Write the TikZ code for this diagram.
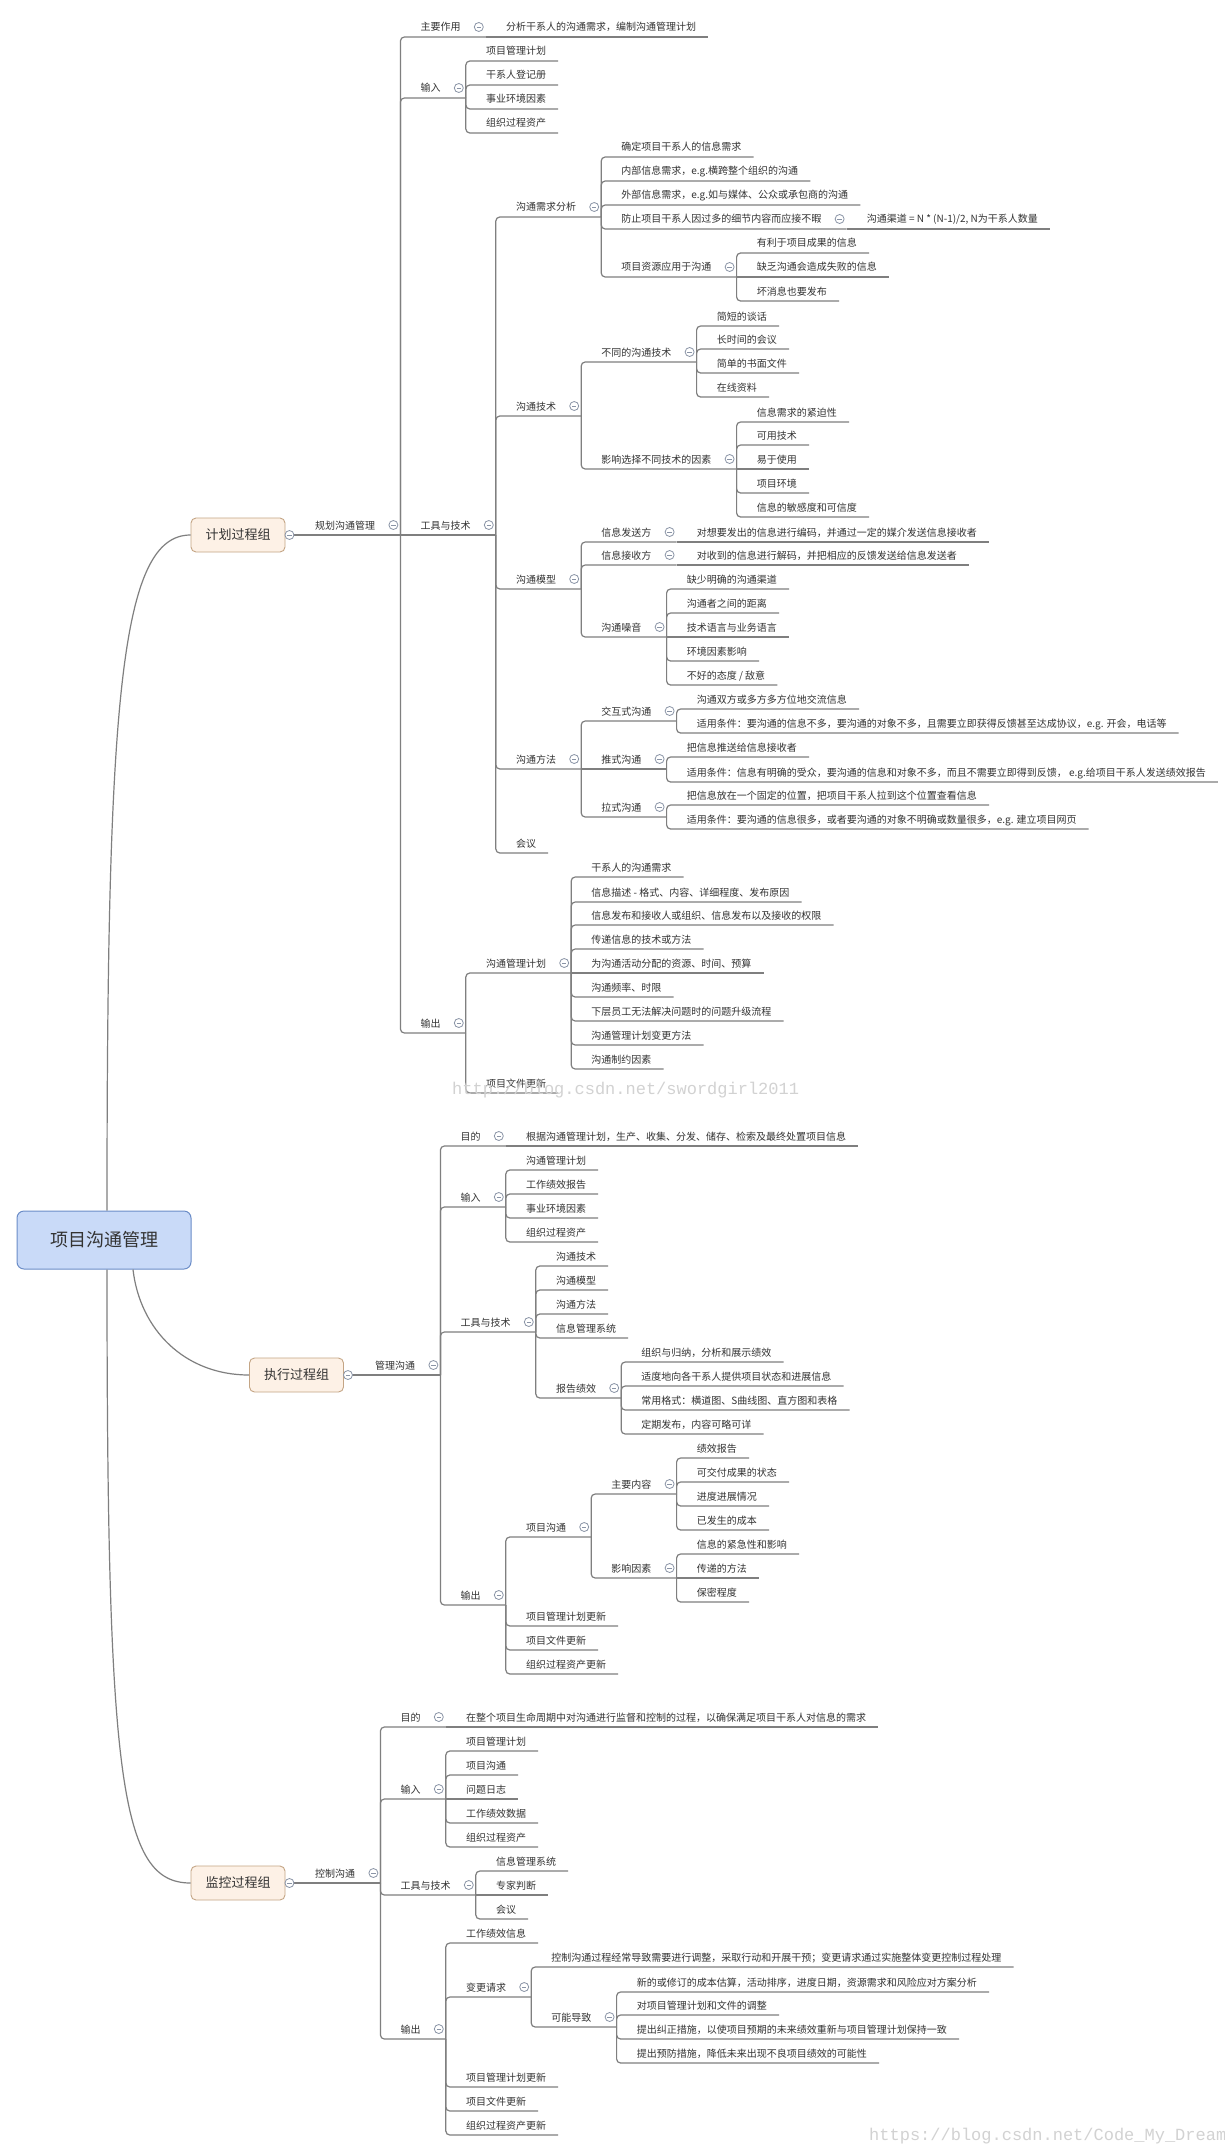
\documentclass[tikz,border=0pt]{standalone}
\usepackage{fontspec}
\setmainfont{Noto Sans CJK SC}
\newfontfamily\wmfont{Liberation Mono}
\usetikzlibrary{calc}
\definecolor{txtc}{HTML}{333333}
\definecolor{linec}{HTML}{7F7F7F}
\definecolor{togc}{HTML}{8A94A6}
\definecolor{grpfill}{HTML}{FDF1E6}
\definecolor{grpdraw}{HTML}{C4A585}
\definecolor{rootfill}{HTML}{C9DAF8}
\definecolor{rootdraw}{HTML}{6A8CC7}
\definecolor{wmc}{HTML}{D2D2D2}
\tikzset{
 txt/.style={font=\fontsize{10}{12}\selectfont, text=txtc, inner sep=1pt, anchor=base west},
 conn/.style={draw=linec, line width=1.2pt, rounded corners=4pt},
 tog/.style={circle, draw=togc, fill=white, line width=0.8pt, minimum size=9pt, inner sep=0pt,
   path picture={\draw[togc, line width=0.8pt] ([xshift=-2.2pt]path picture bounding box.center) -- ([xshift=2.2pt]path picture bounding box.center);}},
 grp/.style={draw=grpdraw, fill=grpfill, rounded corners=5pt, line width=0.9pt, minimum width=94pt, minimum height=34pt, inner sep=0pt, font=\fontsize{13}{15}\selectfont, text=txtc},
 rootbox/.style={draw=rootdraw, fill=rootfill, rounded corners=7pt, line width=1pt, minimum width=174pt, minimum height=58pt, inner sep=0pt, font=\fontsize{18}{20}\selectfont, text=txtc},
 curve/.style={draw=linec, line width=1.2pt},
 wm/.style={font=\wmfont\fontsize{17}{19}\selectfont, text=wmc, inner sep=0pt, anchor=base west}
}
% leaf: [path op]{parent}{name}{underline y}{text}
\newcommand\mmleaf[5][|-]{%
  \coordinate (#3-y) at (0,#4);
  \node[txt] (#3) at ($(#2-s |- #3-y)+(19,-6)$) {#5};
  \coordinate (#3-e) at ($(#3.base east)+(11,6)$);
  \draw[conn] (#2-s) #1 (#3-e);}
% inner node with children
\newcommand\mmnode[5][|-]{%
  \coordinate (#3-y) at (0,#4);
  \node[txt] (#3) at ($(#2-s |- #3-y)+(19,-6)$) {#5};
  \coordinate (#3-s) at ($(#3.base east)+(24,6)$);
  \draw[conn] (#2-s) #1 (#3-s);
  \node[tog] (#3-t) at ($(#3.base east)+(17,-4)$) {};}
\begin{document}
\begin{tikzpicture}[x=1pt,y=-1pt]
\fill[white] (0,0) rectangle (1225,2151);
\useasboundingbox (0,0) rectangle (1225,2151);

\node[rootbox] (root) at (104,1240) {项目沟通管理};
\node[grp] (g1) at (238,535) {计划过程组};
\node[grp] (g2) at (296.5,1375) {执行过程组};
\node[grp] (g3) at (238,1883) {监控过程组};
\draw[curve] ($(root.north)+(3,0)$) .. controls (107,700) and (120,535) .. (g1.west);
\draw[curve] ($(root.south)+(29,0)$) .. controls (140,1330) and (185,1375) .. (g2.west);
\draw[curve] ($(root.south)+(3,0)$) .. controls (107,1780) and (120,1883) .. (g3.west);

% ---------------- planning
\node[txt] (p0) at (314,529) {规划沟通管理};
\coordinate (p0-s) at ($(p0.base east)+(24,6)$);
\draw[conn] (g1.east) -- (p0-s);
\node[tog] (p0-t) at ($(p0.base east)+(17,-4)$) {};
\node[tog] (g1-t) at ($(g1.east)+(4,0)$) {};

\mmnode{p0}{a1}{37}{主要作用}
\mmleaf[--]{a1}{a1a}{37}{分析干系人的沟通需求，编制沟通管理计划}
\mmnode{p0}{a2}{98}{输入}
\mmleaf{a2}{a2a}{61}{项目管理计划}
\mmleaf{a2}{a2b}{85}{干系人登记册}
\mmleaf{a2}{a2c}{109}{事业环境因素}
\mmleaf{a2}{a2d}{133}{组织过程资产}
\mmnode[--]{p0}{a3}{535}{工具与技术}
\mmnode{a3}{b1}{217}{沟通需求分析}
\mmleaf{b1}{b1a}{157}{确定项目干系人的信息需求}
\mmleaf{b1}{b1b}{181}{内部信息需求，e.g.横跨整个组织的沟通}
\mmleaf{b1}{b1c}{205}{外部信息需求，e.g.如与媒体、公众或承包商的沟通}
\mmnode{b1}{b1d}{229}{防止项目干系人因过多的细节内容而应接不暇}
\mmleaf[--]{b1d}{b1d1}{229}{沟通渠道 = N * (N-1)/2, N为干系人数量}
\mmnode{b1}{b1e}{277}{项目资源应用于沟通}
\mmleaf{b1e}{b1e1}{253}{有利于项目成果的信息}
\mmleaf[--]{b1e}{b1e2}{277}{缺乏沟通会造成失败的信息}
\mmleaf{b1e}{b1e3}{301}{坏消息也要发布}
\mmnode{a3}{b2}{416}{沟通技术}
\mmnode{b2}{b2a}{362}{不同的沟通技术}
\mmleaf{b2a}{b2a1}{326}{简短的谈话}
\mmleaf{b2a}{b2a2}{349}{长时间的会议}
\mmleaf{b2a}{b2a3}{373}{简单的书面文件}
\mmleaf{b2a}{b2a4}{397}{在线资料}
\mmnode{b2}{b2b}{469}{影响选择不同技术的因素}
\mmleaf{b2b}{b2b1}{422}{信息需求的紧迫性}
\mmleaf{b2b}{b2b2}{445}{可用技术}
\mmleaf[--]{b2b}{b2b3}{469}{易于使用}
\mmleaf{b2b}{b2b4}{493}{项目环境}
\mmleaf{b2b}{b2b5}{517}{信息的敏感度和可信度}
\mmnode{a3}{b3}{589}{沟通模型}
\mmnode{b3}{b3a}{542}{信息发送方}
\mmleaf[--]{b3a}{b3a1}{542}{对想要发出的信息进行编码，并通过一定的媒介发送信息接收者}
\mmnode{b3}{b3b}{565}{信息接收方}
\mmleaf[--]{b3b}{b3b1}{565}{对收到的信息进行解码，并把相应的反馈发送给信息发送者}
\mmnode{b3}{b3c}{637}{沟通噪音}
\mmleaf{b3c}{b3c1}{589}{缺少明确的沟通渠道}
\mmleaf{b3c}{b3c2}{613}{沟通者之间的距离}
\mmleaf[--]{b3c}{b3c3}{637}{技术语言与业务语言}
\mmleaf{b3c}{b3c4}{661}{环境因素影响}
\mmleaf{b3c}{b3c5}{685}{不好的态度 / 敌意}
\mmnode{a3}{b4}{769}{沟通方法}
\mmnode{b4}{b4a}{721}{交互式沟通}
\mmleaf{b4a}{b4a1}{709}{沟通双方或多方多方位地交流信息}
\mmleaf{b4a}{b4a2}{733}{适用条件：要沟通的信息不多，要沟通的对象不多，且需要立即获得反馈甚至达成协议，e.g. 开会，电话等}
\mmnode[--]{b4}{b4b}{769}{推式沟通}
\mmleaf{b4b}{b4b1}{757}{把信息推送给信息接收者}
\mmleaf{b4b}{b4b2}{782}{适用条件：信息有明确的受众，要沟通的信息和对象不多，而且不需要立即得到反馈， e.g.给项目干系人发送绩效报告}
\mmnode{b4}{b4c}{817}{拉式沟通}
\mmleaf{b4c}{b4c1}{805}{把信息放在一个固定的位置，把项目干系人拉到这个位置查看信息}
\mmleaf{b4c}{b4c2}{829}{适用条件：要沟通的信息很多，或者要沟通的对象不明确或数量很多，e.g. 建立项目网页}
\mmleaf{a3}{b5}{853}{会议}
\mmnode{p0}{a4}{1033}{输出}
\mmnode{a4}{a4a}{973}{沟通管理计划}
\mmleaf{a4a}{a4a1}{877}{干系人的沟通需求}
\mmleaf{a4a}{a4a2}{902}{信息描述 - 格式、内容、详细程度、发布原因}
\mmleaf{a4a}{a4a3}{925}{信息发布和接收人或组织、信息发布以及接收的权限}
\mmleaf{a4a}{a4a4}{949}{传递信息的技术或方法}
\mmleaf[--]{a4a}{a4a5}{973}{为沟通活动分配的资源、时间、预算}
\mmleaf{a4a}{a4a6}{997}{沟通频率、时限}
\mmleaf{a4a}{a4a7}{1021}{下层员工无法解决问题时的问题升级流程}
\mmleaf{a4a}{a4a8}{1045}{沟通管理计划变更方法}
\mmleaf{a4a}{a4a9}{1069}{沟通制约因素}
\mmleaf{a4}{a4b}{1093}{项目文件更新}

% ---------------- executing
\node[txt] (e0) at (374,1369) {管理沟通};
\coordinate (e0-s) at ($(e0.base east)+(24,6)$);
\draw[conn] (g2.east) -- (e0-s);
\node[tog] (e0-t) at ($(e0.base east)+(17,-4)$) {};
\node[tog] (g2-t) at ($(g2.east)+(4,0)$) {};

\mmnode{e0}{c1}{1146}{目的}
\mmleaf[--]{c1}{c1a}{1146}{根据沟通管理计划，生产、收集、分发、储存、检索及最终处置项目信息}
\mmnode{e0}{c2}{1207}{输入}
\mmleaf{c2}{c2a}{1170}{沟通管理计划}
\mmleaf{c2}{c2b}{1194}{工作绩效报告}
\mmleaf{c2}{c2c}{1218}{事业环境因素}
\mmleaf{c2}{c2d}{1242}{组织过程资产}
\mmnode{e0}{c3}{1332}{工具与技术}
\mmleaf{c3}{c3a}{1266}{沟通技术}
\mmleaf{c3}{c3b}{1290}{沟通模型}
\mmleaf{c3}{c3c}{1314}{沟通方法}
\mmleaf{c3}{c3d}{1338}{信息管理系统}
\mmnode{c3}{c3e}{1398}{报告绩效}
\mmleaf{c3e}{c3e1}{1362}{组织与归纳，分析和展示绩效}
\mmleaf{c3e}{c3e2}{1386}{适度地向各干系人提供项目状态和进展信息}
\mmleaf{c3e}{c3e3}{1410}{常用格式：横道图、S曲线图、直方图和表格}
\mmleaf{c3e}{c3e4}{1434}{定期发布，内容可略可详}
\mmnode{e0}{c4}{1605}{输出}
\mmnode{c4}{c4a}{1537}{项目沟通}
\mmnode{c4a}{c4a1}{1494}{主要内容}
\mmleaf{c4a1}{c4a1a}{1458}{绩效报告}
\mmleaf{c4a1}{c4a1b}{1482}{可交付成果的状态}
\mmleaf{c4a1}{c4a1c}{1506}{进度进展情况}
\mmleaf{c4a1}{c4a1d}{1530}{已发生的成本}
\mmnode{c4a}{c4a2}{1578}{影响因素}
\mmleaf{c4a2}{c4a2a}{1554}{信息的紧急性和影响}
\mmleaf[--]{c4a2}{c4a2b}{1578}{传递的方法}
\mmleaf{c4a2}{c4a2c}{1602}{保密程度}
\mmleaf{c4}{c4b}{1626}{项目管理计划更新}
\mmleaf{c4}{c4c}{1650}{项目文件更新}
\mmleaf{c4}{c4d}{1674}{组织过程资产更新}

% ---------------- monitoring
\node[txt] (m0) at (314,1877) {控制沟通};
\coordinate (m0-s) at ($(m0.base east)+(24,6)$);
\draw[conn] (g3.east) -- (m0-s);
\node[tog] (m0-t) at ($(m0.base east)+(17,-4)$) {};
\node[tog] (g3-t) at ($(g3.east)+(4,0)$) {};

\mmnode{m0}{d1}{1727}{目的}
\mmleaf[--]{d1}{d1a}{1727}{在整个项目生命周期中对沟通进行监督和控制的过程，以确保满足项目干系人对信息的需求}
\mmnode{m0}{d2}{1799}{输入}
\mmleaf{d2}{d2a}{1751}{项目管理计划}
\mmleaf{d2}{d2b}{1775}{项目沟通}
\mmleaf[--]{d2}{d2c}{1799}{问题日志}
\mmleaf{d2}{d2d}{1823}{工作绩效数据}
\mmleaf{d2}{d2e}{1847}{组织过程资产}
\mmnode{m0}{d3}{1895}{工具与技术}
\mmleaf{d3}{d3a}{1871}{信息管理系统}
\mmleaf[--]{d3}{d3b}{1895}{专家判断}
\mmleaf{d3}{d3c}{1919}{会议}
\mmnode{m0}{d4}{2039}{输出}
\mmleaf{d4}{d4a}{1943}{工作绩效信息}
\mmnode{d4}{d4b}{1997}{变更请求}
\mmleaf{d4b}{d4b1}{1967}{控制沟通过程经常导致需要进行调整，采取行动和开展干预；变更请求通过实施整体变更控制过程处理}
\mmnode{d4b}{d4b2}{2027}{可能导致}
\mmleaf{d4b2}{d4b2a}{1992}{新的或修订的成本估算，活动排序，进度日期，资源需求和风险应对方案分析}
\mmleaf{d4b2}{d4b2b}{2015}{对项目管理计划和文件的调整}
\mmleaf{d4b2}{d4b2c}{2039}{提出纠正措施，以使项目预期的未来绩效重新与项目管理计划保持一致}
\mmleaf{d4b2}{d4b2d}{2063}{提出预防措施，降低未来出现不良项目绩效的可能性}
\mmleaf{d4}{d4c}{2087}{项目管理计划更新}
\mmleaf{d4}{d4d}{2111}{项目文件更新}
\mmleaf{d4}{d4e}{2135}{组织过程资产更新}

% ---------------- watermarks
\node[wm] (wm1) at (452,1094) {http://blog.csdn.net/swordgirl2011};
\node[wm] (wm2) at (869,2140) {https://blog.csdn.net/Code\_My\_Dream};
\end{tikzpicture}
\end{document}
